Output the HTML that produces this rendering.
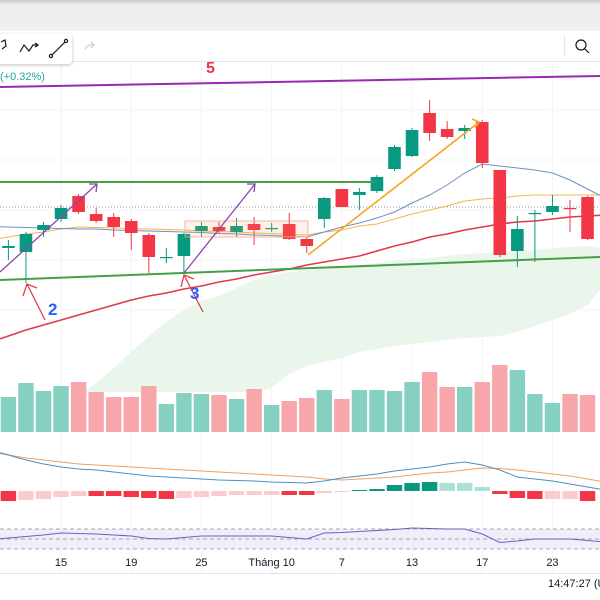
<!DOCTYPE html>
<html><head><meta charset="utf-8">
<style>
html,body{margin:0;padding:0;background:#fff;width:600px;height:600px;overflow:hidden;font-family:"Liberation Sans",sans-serif;}
svg{display:block}
</style></head>
<body>
<svg id="c" width="600" height="600" xmlns="http://www.w3.org/2000/svg">
  <defs>
    <linearGradient id="topg" x1="0" y1="0" x2="0" y2="1">
      <stop offset="0" stop-color="#c9c9cb"/><stop offset="0.15" stop-color="#ececed"/><stop offset="1" stop-color="#f1f1f2"/>
    </linearGradient>
    <filter id="sh" x="-10%" y="-20%" width="130%" height="150%"><feDropShadow dx="0" dy="1" stdDeviation="1.5" flood-opacity="0.25"/></filter>
  </defs>
  <g id="grid"></g>
  <g id="cloud"></g>
  <g id="vol"></g>
  <g id="mas"></g>
  <g id="candles"></g>
  <g id="draw"></g>
  <g id="macd"></g>
  <g id="rsi"></g>
  <g id="xaxis"></g>
  <text x="206" y="73" font-size="16" font-weight="bold" fill="#f23645">5</text>
  <rect x="0" y="0" width="600" height="31" fill="url(#topg)"/>
  <rect x="0" y="31" width="600" height="31" fill="#fff"/>
  <line x1="0" y1="61.5" x2="600" y2="61.5" stroke="#e0e3eb"/>
  <g filter="url(#sh)">
    <rect x="-6" y="34" width="78" height="30" rx="4" fill="#fff"/>
  </g>
  <g stroke="#131722" stroke-width="1.2" fill="none">
    <path d="M1 42 L5 40 L6 46 L2 49"/>
    <path d="M20 52 L24 45 L29 51 L33 45 L38 45"/>
    <path d="M35 43 L38 45 L35 47"/>
    <path d="M51 56 L66 41"/>
    <circle cx="51" cy="56" r="1.6" fill="#fff"/>
    <circle cx="66" cy="41" r="1.6" fill="#fff"/>
    <path d="M85 49 Q88 44 94 45 M91 42 L94 45 L91 48" stroke="#c8cad0"/>
    <line x1="564.5" y1="36" x2="564.5" y2="56" stroke="#e0e3eb"/>
    <circle cx="581" cy="45" r="5"/>
    <line x1="585" y1="49" x2="589" y2="53"/>
  </g>
  <text x="0" y="80" font-size="11" fill="#22ab94">(+0.32%)</text>
  <line x1="0" y1="573.5" x2="600" y2="573.5" stroke="#e0e3eb"/>
  <text x="548" y="587" font-size="11" fill="#131722">14:47:27 (U</text>
</svg>
<script>
// ---- data ----
const opens  = [25.2,24.8,27.0,28.1,30.4,28.6,28.3,27.9,26.5,24.3,24.4,26.9,27.3,26.8,27.6,27.2,27.6,26.1,28.1,31.1,30.5,30.9,33.1,34.4,38.7,37.1,36.9,37.8,33.0,24.9,28.7,28.8,29.2,30.3];
const highs  = [26.0,26.8,27.8,29.5,30.6,29.2,28.7,28.1,26.7,25.2,26.7,27.8,27.8,28.2,28.3,27.7,28.7,26.3,30.3,31.1,31.2,32.5,35.5,37.2,40.0,37.9,37.5,38.0,33.0,28.4,29.0,30.5,30.0,30.4];
const lows   = [24.0,21.7,26.3,27.8,28.6,27.7,26.3,25.0,22.7,23.7,22.8,26.3,26.6,26.3,25.5,26.8,26.0,24.7,27.2,29.3,29.0,30.7,32.9,34.3,35.9,36.1,36.1,33.2,24.3,23.3,23.8,28.5,26.8,26.0];
const closes = [25.4,26.6,27.5,29.2,28.8,27.9,27.3,26.7,24.3,24.3,26.6,27.4,26.9,27.4,27.0,27.2,26.1,25.4,30.2,29.3,30.8,32.3,35.3,37.0,36.7,36.3,37.2,33.7,24.5,27.1,28.7,29.4,29.1,26.1];
const volumes = [35,49,41,46,50,40,35,35,46,28,39,38,37,33,43,27,31,34,42,33,42,42,41,50,60,45,45,50,67,62,38,29,38,37];
const maFast = [27.3,27.25,27.2,27.15,27.1,27.1,27.0,26.95,26.9,26.85,26.8,26.75,26.65,26.6,26.5,26.45,26.35,26.3,26.8,27.3,27.7,28.2,28.8,29.7,30.5,31.5,32.7,33.6,33.4,33.2,33.0,32.7,32.0,31.1];
const maMid  = [26.3,26.6,26.8,27.1,27.3,27.25,27.2,27.15,27.1,27.05,27.0,26.9,26.85,26.8,26.7,26.65,26.55,26.5,26.8,27.0,27.4,27.6,28.1,28.6,29.0,29.4,29.9,30.1,30.2,30.4,30.5,30.5,30.5,30.5];
const maSlow = [16.4,17.0,17.5,18.0,18.5,19.0,19.5,20.0,20.4,20.7,21.1,21.4,21.8,22.1,22.5,22.8,23.1,23.5,23.8,24.1,24.4,24.9,25.4,25.8,26.3,26.6,27.0,27.3,27.6,27.8,27.9,28.1,28.3,28.4];
const cloudStart = 4;
const cloudTop = [10.5,11.7,13.2,14.8,16.4,17.8,19.0,19.9,20.4,21.2,22.0,22.5,22.8,23.0,23.2,23.3,23.5,23.7,23.9,24.1,24.2,24.4,24.6,24.7,24.8,24.9,25.0,25.2,25.3,25.4];
const cloudBot = [10.5,10.8,10.8,10.8,10.8,10.8,10.8,10.8,10.8,10.8,10.8,11.2,12.6,13.4,13.8,14.2,14.8,15.1,15.4,15.6,15.8,16.0,16.2,16.3,16.4,16.8,17.4,18.0,18.6,19.5];
const macdLine = [3.6,3.1,2.7,2.4,2.2,2.1,1.9,1.7,1.5,1.4,1.3,1.2,1.1,1.05,1.0,0.9,0.85,0.8,1.0,1.3,1.5,1.7,2.0,2.2,2.4,2.7,2.9,2.6,2.1,1.4,1.2,1.0,0.7,0.4];
const signalLine = [3.6,3.3,3.1,2.9,2.7,2.6,2.5,2.4,2.3,2.2,2.1,2.0,1.9,1.8,1.7,1.6,1.5,1.4,1.2,1.1,1.2,1.3,1.4,1.6,1.8,1.9,2.1,2.3,2.25,2.1,1.9,1.7,1.5,1.2];
const histogram = [-1.0,-0.9,-0.8,-0.6,-0.5,-0.5,-0.5,-0.6,-0.7,-0.8,-0.7,-0.6,-0.5,-0.4,-0.4,-0.4,-0.4,-0.4,-0.2,-0.1,0.1,0.2,0.6,0.8,0.9,0.8,0.8,0.4,-0.3,-0.7,-0.8,-0.8,-0.8,-1.0];
const histStrong = [1,0,0,0,0,1,1,1,1,1,0,0,0,0,0,0,1,1,0,0,1,1,1,1,1,0,0,0,1,1,1,0,0,1];
const rsiValues = [52,55,58,62,61,60,58,56,51,50,53,56,56,56,56,56,53,50,62,63,65,67,69,72,71,70,70,60,43,46,50,50,50,47];
const tickLabels = ["15","19","25","Tháng 10","7","13","17","23"];
const tickIndex = [3,7,11,15,19,23,27,31];
const greenHigh = 31.8;
const dottedLevel = 29.3;

// ---- scales ----
const NS='http://www.w3.org/2000/svg';
const xAt = i => 8.4 + 17.55*i;
const yP = v => 300 - (v-20)*10;
const yV = v => 432 - v;
const yM = v => 491 - v*10;
const yR = v => 539 - (v-50)*0.5;
function mk(tag, attrs, parent){const e=document.createElementNS(NS,tag);for(const k in attrs)e.setAttribute(k,attrs[k]);document.getElementById(parent).appendChild(e);return e;}

tickIndex.forEach((ti,j)=>{
  const e=mk('line',{x1:xAt(ti),x2:xAt(ti),y1:62,y2:573,stroke:'#f0f3fa'},'grid');
  
  
});
[110,160,210,260,310].forEach(y=>{
  const e=mk('line',{x1:0,x2:600,y1:y,y2:y,stroke:'#f3f5fa'},'grid');
  
  
});

{
  let top='',bot='';
  cloudTop.forEach((v,j)=>{top+=(j?'L':'M')+xAt(cloudStart+j)+' '+yP(v)+' ';});
  for(let j=cloudBot.length-1;j>=0;j--){bot+='L'+xAt(cloudStart+j)+' '+yP(cloudBot[j])+' ';}
  const last=cloudTop.length-1;
  const e=mk('path',{d:top+'L600 '+yP(cloudTop[last]-0.2)+' L600 '+yP(cloudBot[last]+1.5)+' '+bot+'Z',fill:'#eaf5ec'},'cloud');
  
  
}

volumes.forEach((v,i)=>{
  const up=closes[i]>=opens[i];
  const e=mk('rect',{x:xAt(i)-7.7,y:yV(v),width:15.4,height:v,fill:up?'#86d0c2':'#f7a6a9'},'vol');
  
  
});

function line(arr, yf, color, w, parent, name){
  const n=arr.length;
  const y0=yf(arr[0])-(yf(arr[1])-yf(arr[0]))*xAt(0)/17.55;
  const yn=yf(arr[n-1])+(yf(arr[n-1])-yf(arr[n-2]))*(600-xAt(n-1))/17.55;
  const d='M0 '+y0.toFixed(1)+' '+arr.map((v,i)=>'L'+xAt(i).toFixed(1)+' '+yf(v).toFixed(1)).join(' ')+' L600 '+yn.toFixed(1);
  const e=mk('path',{d:d,fill:'none',stroke:color,'stroke-width':w},parent);
  
  
}
{
  const e=mk('line',{x1:0,x2:600,y1:yP(dottedLevel),y2:yP(dottedLevel),stroke:'#9598a1','stroke-dasharray':'1 2'},'mas');
  
  
}
line(maSlow, yP, '#e0394a', 1.6, 'mas', 'ma-slow');
line(maMid, yP, '#f5b450', 1, 'mas', 'ma-mid');
line(maFast, yP, '#6f8fc0', 1, 'mas', 'ma-fast');

opens.forEach((o,i)=>{
  const c=closes[i], up=c>=o, col=up?'#089981':'#f23645', x=xAt(i);
  const w=mk('line',{x1:x,x2:x,y1:yP(highs[i]),y2:yP(lows[i]),stroke:col,'stroke-width':1},'candles');
  
  
  const t=yP(Math.max(o,c)), h=Math.max(1.2,Math.abs(yP(o)-yP(c)));
  const b=mk('rect',{x:x-6.3,y:t,width:12.6,height:h,fill:col},'candles');
  
  
});

{
  const D=document.getElementById('draw');
  D.innerHTML=`
  <rect x="185" y="221" width="123" height="16" fill="rgba(245,160,100,0.15)" stroke="#f0a890" stroke-width="0.8"/>
  <line x1="0" y1="87" x2="600" y2="76" stroke="#9c27b0" stroke-width="2"/>
  <line x1="0" y1="${yP(greenHigh)}" x2="375" y2="${yP(greenHigh)}" stroke="#43a047" stroke-width="2"/>
  <line x1="0" y1="280" x2="600" y2="257" stroke="#43a047" stroke-width="2"/>
  <g stroke="#f5a623" stroke-width="1.6" fill="none"><line x1="308" y1="255" x2="478" y2="123"/><path d="M472 119 L479 122 L475 128"/></g>
  <g stroke="#8e44ad" stroke-width="1.3" fill="none"><line x1="0" y1="272" x2="97" y2="184"/><path d="M89 184 L97 184 L96 192"/></g>
  <g stroke="#8e44ad" stroke-width="1.3" fill="none"><line x1="184" y1="273" x2="255" y2="184"/><path d="M247 184 L255 184 L254 192"/></g>
  <g stroke="#e04050" stroke-width="1.3" fill="none"><line x1="27" y1="284" x2="45" y2="320"/><path d="M23 296 L27 284 L37 288"/></g>
  <g stroke="#e04050" stroke-width="1.3" fill="none"><line x1="184" y1="275" x2="203" y2="312"/><path d="M181 287 L184 275 L194 279"/></g>
  <text x="48" y="315" font-size="17" font-weight="bold" fill="#2962ff">2</text>
  <text x="190" y="299" font-size="17" font-weight="bold" fill="#2962ff">3</text>`;
}

histogram.forEach((v,i)=>{
  const pos=v>=0, strong=histStrong[i]===1;
  const col=pos?(strong?'#089981':'#acdfd6'):(strong?'#f23645':'#fccbcd');
  const y0=yM(0), y1=yM(v);
  const e=mk('rect',{x:xAt(i)-7.7,y:Math.min(y0,y1),width:15.4,height:Math.max(1,Math.abs(y1-y0)),fill:col},'macd');
  
  
});
line(signalLine, yM, '#f0a060', 1, 'macd', 'macd-signal-line');
line(macdLine, yM, '#4a90c8', 1, 'macd', 'macd-line');

{
  const e=mk('rect',{x:0,y:yR(70),width:600,height:yR(30)-yR(70),fill:'#f1eefb'},'rsi');
  
  
  [70,50,30].forEach(l=>{
    const d=mk('line',{x1:0,x2:600,y1:yR(l),y2:yR(l),stroke:'#8a8d96','stroke-dasharray':'4 3','stroke-width':0.8},'rsi');
    
    
  });
}
line(rsiValues, yR, '#7e57c2', 1, 'rsi', 'rsi-line');

tickLabels.forEach((t,j)=>{
  const e=mk('text',{x:xAt(tickIndex[j]),y:566,'font-size':11,'text-anchor':'middle',fill:'#131722'},'xaxis');
  e.textContent=t;
  
  
});
</script>
</body></html>
